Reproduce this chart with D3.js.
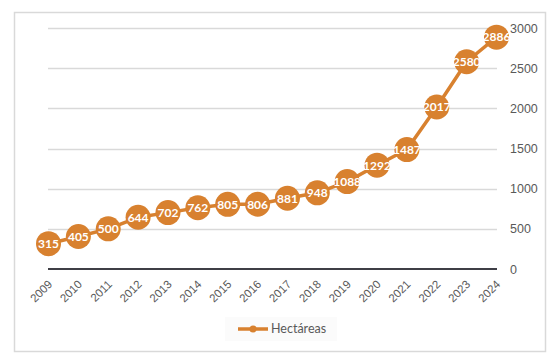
<!DOCTYPE html>
<html><head><meta charset="utf-8">
<script src="https://cdn.jsdelivr.net/npm/d3@7"></script>
<style>body{margin:0;background:#fff;} svg{display:block;font-family:Lato,"Open Sans",sans-serif;}</style>
</head><body>
<svg id="c" width="560" height="356"></svg>
<script>
const years = ["2009","2010","2011","2012","2013","2014","2015","2016","2017","2018","2019","2020","2021","2022","2023","2024"];
const hectareas = [315,405,500,644,702,762,805,806,881,948,1088,1292,1487,2017,2580,2886];
const yTicks = [0,500,1000,1500,2000,2500,3000];
const seriesName = "Hectáreas";
const orange = "#D8812F";

const svg = d3.select("#c");
svg.append("rect").attr("x",14.5).attr("y",12.5).attr("width",531).attr("height",339)
  .attr("fill","#fff").attr("stroke","#d9d9d9").attr("stroke-width",1.5);

const x = d3.scalePoint().domain(years).range([48.5,496.5]).padding(0);
const y = d3.scaleLinear().domain([0,3000]).range([269,28]);

const g = svg.append("g");
g.selectAll("line.grid").data(yTicks.filter(d=>d>0)).join("line")
  .attr("x1",48).attr("x2",497).attr("y1",d=>Math.round(y(d))+0.5).attr("y2",d=>Math.round(y(d))+0.5)
  .attr("stroke","#d9d9d9").attr("stroke-width",1.3);
g.append("line").attr("x1",48).attr("x2",497).attr("y1",y(0)).attr("y2",y(0))
  .attr("stroke","#3f3f46").attr("stroke-width",2.2);

const ya = svg.append("g").attr("transform","translate(497,0)")
  .call(d3.axisRight(y).tickValues(yTicks).tickSize(0).tickPadding(13).tickFormat(d3.format("d")));
ya.select(".domain").remove();
ya.selectAll("text").attr("fill","#595959").attr("font-size",12.5);

const xa = svg.append("g").attr("transform",`translate(0,${y(0)})`)
  .call(d3.axisBottom(x).tickSize(0).tickPadding(0));
xa.select(".domain").remove();
xa.selectAll("text").attr("fill","#595959").attr("font-size",11.5)
  .attr("text-anchor","end").attr("dy",0).attr("y",0)
  .attr("transform","translate(4,16) rotate(-45)");

const line = d3.line().x((d,i)=>x(years[i])).y(d=>y(d));
svg.append("path").datum(hectareas).attr("d",line).attr("fill","none")
  .attr("stroke",orange).attr("stroke-width",3.5).attr("stroke-linejoin","round");

const pts = svg.append("g").selectAll("g").data(hectareas).join("g")
  .attr("transform",(d,i)=>`translate(${x(years[i])},${y(d)})`);
pts.append("circle").attr("r",12.5).attr("fill",orange);
pts.append("text").text(d=>d).attr("text-anchor","middle").attr("dy","0.36em")
  .attr("fill","#fff").attr("font-weight","bold").attr("font-size",12);

const lg = svg.append("g").attr("transform","translate(280,329)");
lg.append("rect").attr("x",-55).attr("y",-12).attr("width",112).attr("height",24).attr("fill","#fbfbfb");
lg.append("line").attr("x1",-42).attr("x2",-12).attr("y1",0).attr("y2",0).attr("stroke",orange).attr("stroke-width",3.5);
lg.append("circle").attr("cx",-27).attr("cy",0).attr("r",3.5).attr("fill",orange);
lg.append("text").attr("x",-9).attr("dy","0.35em").text(seriesName).attr("fill","#595959").attr("font-size",12.5);
</script>
</body></html>
